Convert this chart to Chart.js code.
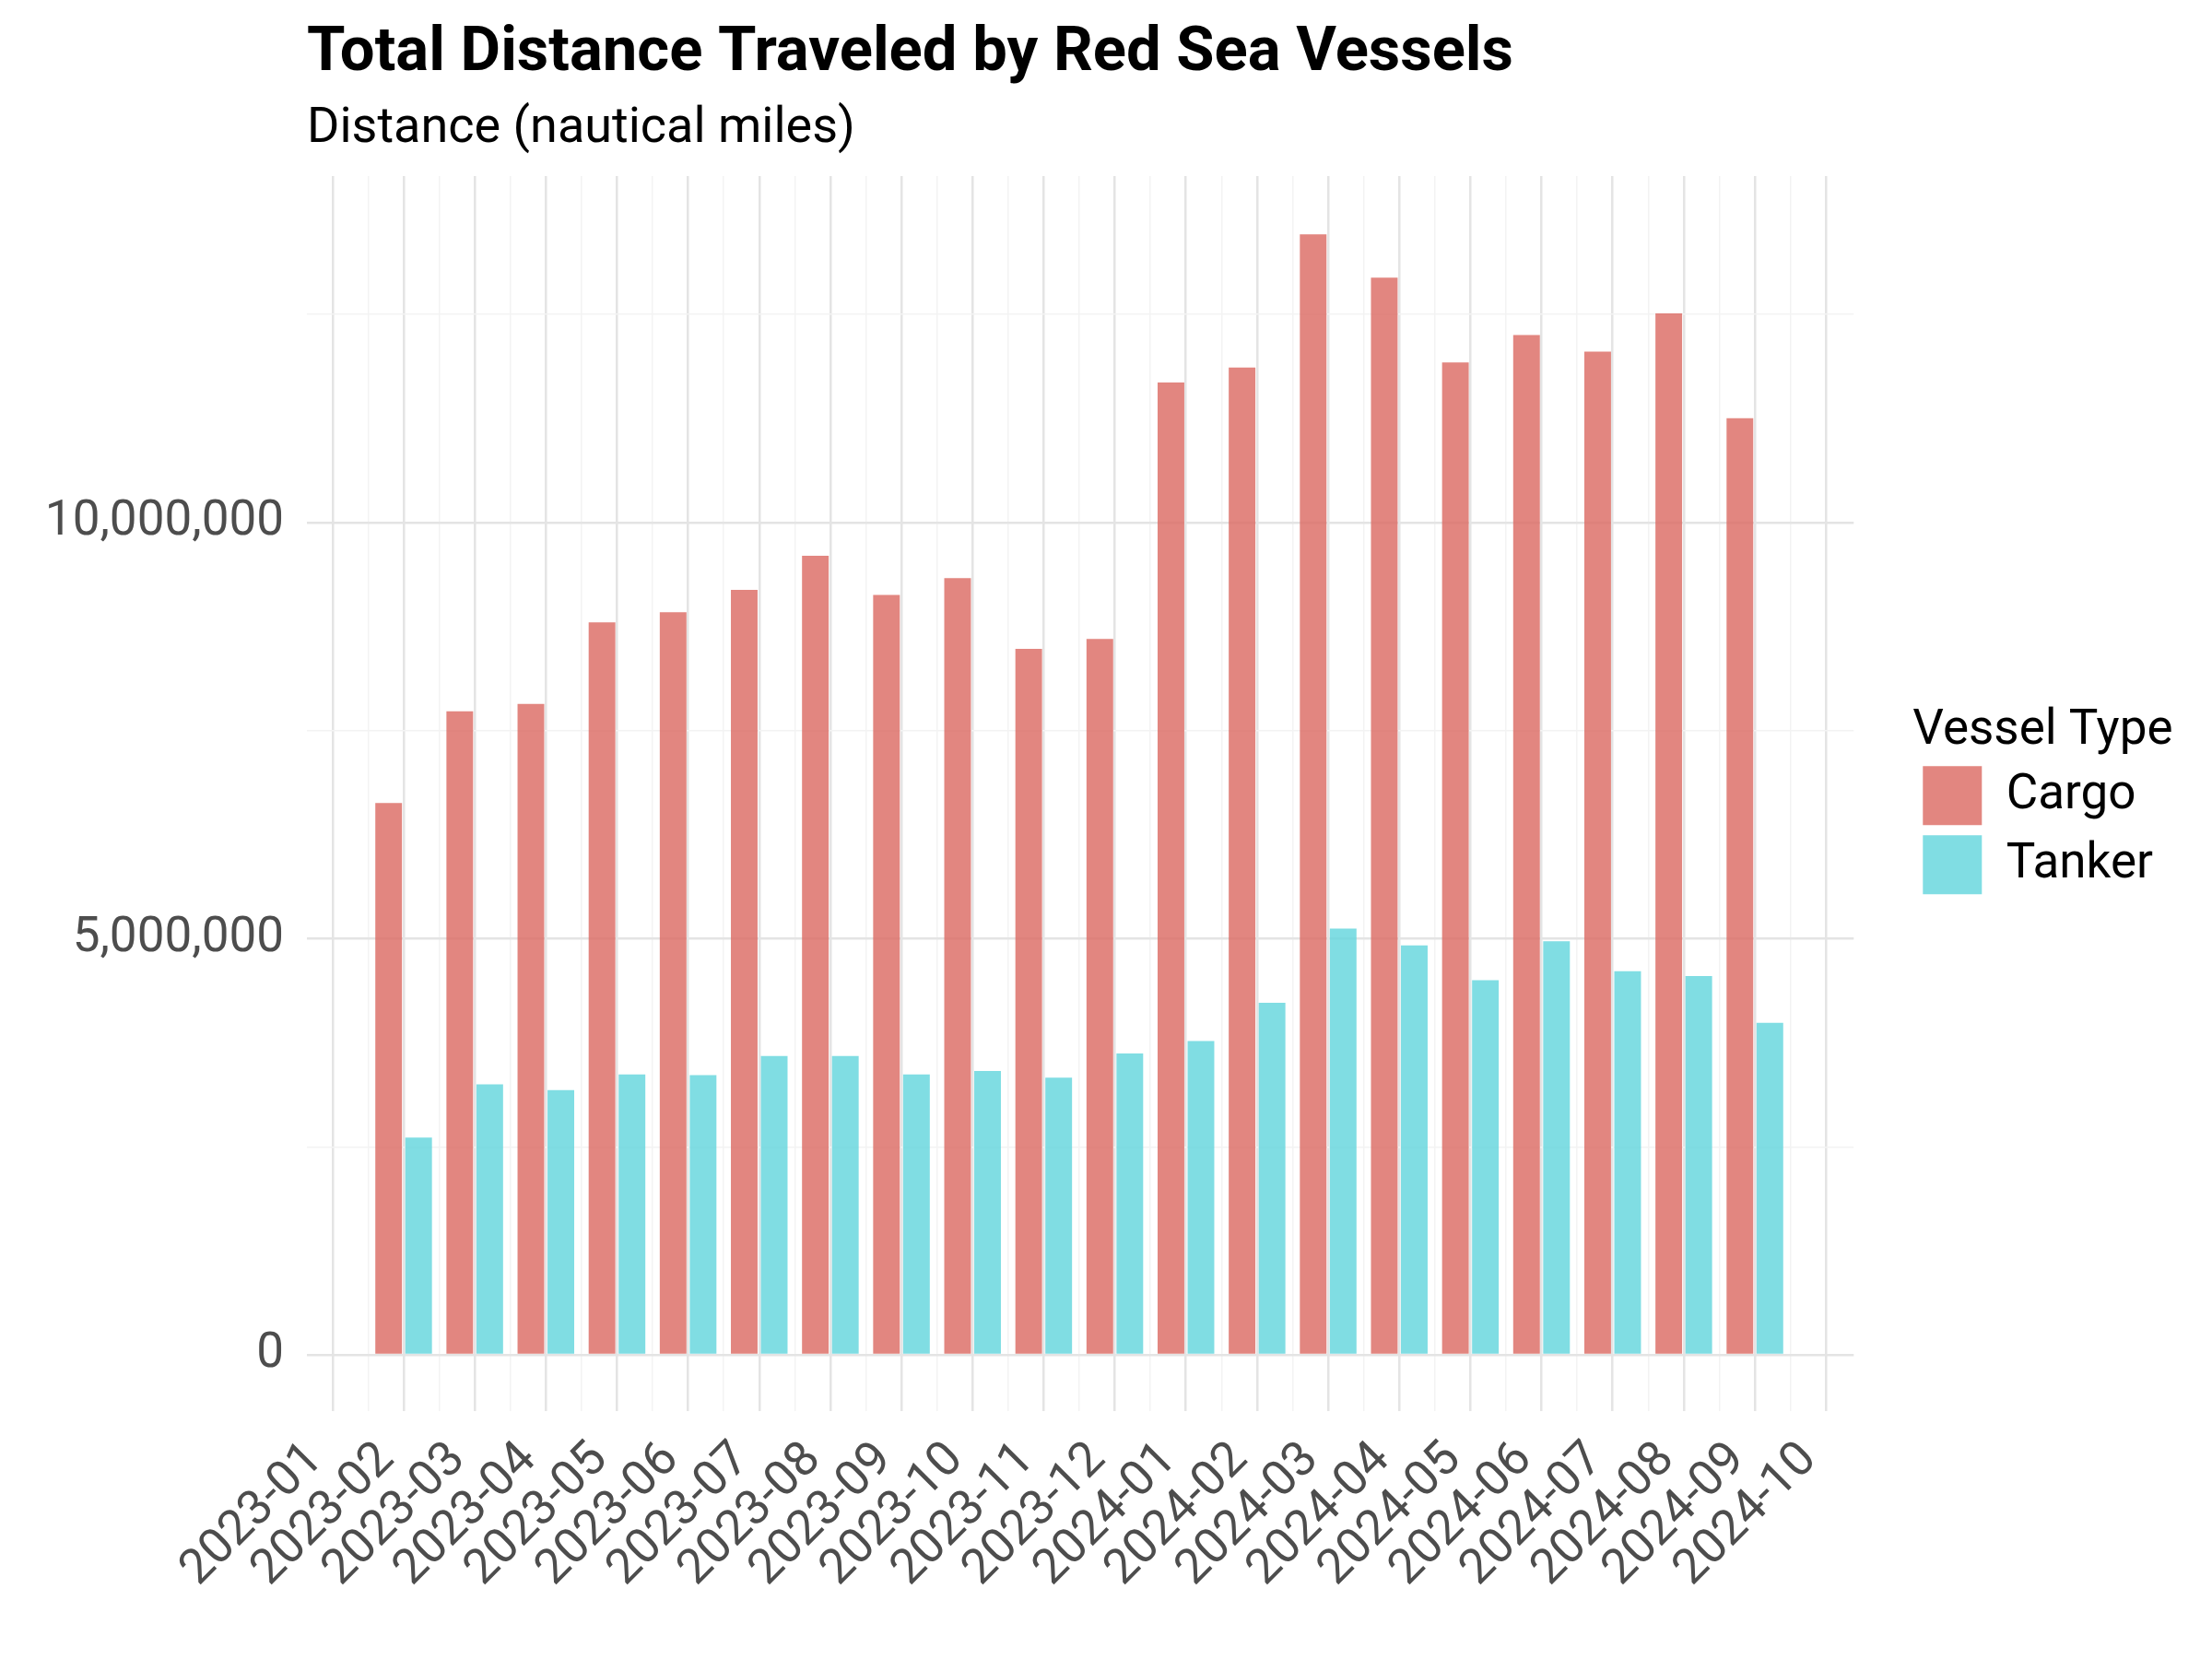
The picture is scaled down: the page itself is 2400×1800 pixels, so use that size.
<!DOCTYPE html>
<html>
<head>
<meta charset="utf-8">
<script src="https://cdn.jsdelivr.net/npm/chart.js@4.4.0/dist/chart.umd.min.js"></script>
<style>
  html, body { margin: 0; padding: 0; background: #fff; }
  canvas { display: block; }
</style>
</head>
<body>
<canvas id="myChart" width="2400" height="1800"></canvas>
<script>
const tickLabels = ['2023-01', '2023-02', '2023-03', '2023-04', '2023-05', '2023-06', '2023-07', '2023-08',
    '2023-09', '2023-10', '2023-11', '2023-12', '2024-01', '2024-02', '2024-03', '2024-04', '2024-05',
    '2024-06', '2024-07', '2024-08', '2024-09', '2024-10'];
const months = ['2023-02', '2023-03', '2023-04', '2023-05', '2023-06', '2023-07', '2023-08', '2023-09',
    '2023-10', '2023-11', '2023-12', '2024-01', '2024-02', '2024-03', '2024-04', '2024-05', '2024-06',
    '2024-07', '2024-08', '2024-09'];
const cargoValues = [6630000, 7730000, 7820000, 8800000, 8920000, 9190000, 9600000, 9130000, 9330000, 8480000,
    8600000, 11680000, 11860000, 13460000, 12940000, 11920000, 12250000, 12050000, 12510000, 11250000];
const tankerValues = [2610000, 3250000, 3180000, 3370000, 3360000, 3590000, 3590000, 3370000, 3410000, 3330000,
    3620000, 3770000, 4230000, 5120000, 4920000, 4500000, 4970000, 4610000, 4550000, 3990000];
const yTicks = [0, 2500000, 5000000, 7500000, 10000000, 12500000];

let myChart;

function puntos(values) {
    return values.map((v, i) => ({ x: tickLabels.indexOf(months[i]), y: v }));
}

// titulo alineado con el panel, como en ggplot
const tituloPanel = {
    id: 'tituloPanel',
    afterDraw(chart) {
        const ctx = chart.ctx;
        const x = chart.chartArea.left;
        ctx.save();
        ctx.fillStyle = '#000';
        ctx.textAlign = 'left';
        ctx.textBaseline = 'alphabetic';
        ctx.font = 'bold 67px Roboto';
        ctx.fillText('Total Distance Traveled by Red Sea Vessels', x, 76);
        ctx.font = '54px Roboto';
        ctx.fillText('Distance (nautical miles)', x, 154);
        ctx.restore();
    }
};

// la leyenda recorta su titulo, asi que se ensancha un poco
const leyendaAncha = {
    id: 'leyendaAncha',
    beforeLayout(chart) {
        const lg = chart.legend;
        if (lg && !lg._ancha) {
            const fit = lg.fit.bind(lg);
            lg.fit = function () {
                fit();
                this.width += 40;
            };
            lg._ancha = true;
        }
    }
};

function esMayor(ctx) {
    const v = ctx.tick ? ctx.tick.value : 0;
    return ctx.scale.axis === 'x' ? Number.isInteger(v) : v % 5000000 === 0;
}

function colorGrid(ctx) {
    return esMayor(ctx) ? '#e4e4e4' : '#f3f3f3';
}

function anchoGrid(ctx) {
    return esMayor(ctx) ? 2.5 : 1.5;
}

const ctx = document.getElementById('myChart').getContext('2d');

myChart = new Chart(ctx, {
    type: 'bar',
    data: {
        datasets: [{
            label: 'Cargo',
            data: puntos(cargoValues),
            backgroundColor: 'rgba(219, 104, 96, 0.8)',
            borderWidth: 0
        }, {
            label: 'Tanker',
            data: puntos(tankerValues),
            backgroundColor: 'rgba(96, 212, 220, 0.8)',
            borderWidth: 0
        }]
    },
    options: {
        responsive: false,
        animation: false,
        devicePixelRatio: 1,
        // el ancho minimo incluye los ticks de medio mes
        categoryPercentage: 1.686,
        barPercentage: 0.89,
        layout: {
            padding: { top: 191, left: 10, right: 14, bottom: 10 }
        },
        plugins: {
            title: { display: false },
            tooltip: { enabled: false },
            legend: {
                display: true,
                position: 'right',
                fullSize: false,
                align: 'center',
                title: {
                    display: true,
                    text: 'Vessel Type',
                    color: '#000',
                    position: 'start',
                    padding: { top: 27, bottom: -11 },
                    font: { family: 'Roboto', size: 53 }
                },
                labels: {
                    boxWidth: 64,
                    boxHeight: 64,
                    padding: 11,
                    color: '#000',
                    font: { family: 'Roboto', size: 53 }
                }
            }
        },
        scales: {
            x: {
                type: 'linear',
                min: -0.36,
                max: 21.39,
                offset: false,
                afterBuildTicks(axis) {
                    const t = [];
                    tickLabels.forEach((_, i) => {
                        t.push({ value: i });
                        if (i < tickLabels.length - 1) t.push({ value: i + 0.5 });
                    });
                    axis.ticks = t;
                },
                afterFit(axis) { axis.height = 259; },
                grid: { offset: false, color: colorGrid, lineWidth: anchoGrid, drawTicks: false },
                border: { display: false },
                ticks: {
                    autoSkip: false,
                    maxRotation: 45,
                    minRotation: 45,
                    padding: 22,
                    labelOffset: -18,
                    color: '#4D4D4D',
                    font: { family: 'Roboto', size: 53 },
                    callback: v => Number.isInteger(v) ? tickLabels[v] : ''
                }
            },
            y: {
                min: -674000,
                max: 14160000,
                afterBuildTicks(axis) {
                    axis.ticks = yTicks.map(v => ({ value: v }));
                },
                afterFit(axis) { axis.width = 323; },
                grid: { color: colorGrid, lineWidth: anchoGrid, drawTicks: false },
                border: { display: false },
                ticks: {
                    padding: 25,
                    color: '#4D4D4D',
                    font: { family: 'Roboto', size: 53 },
                    callback: v => v % 5000000 === 0 ? v.toLocaleString('en-US') : ''
                }
            },
            hueco: {
                type: 'linear',
                position: 'right',
                display: true,
                grid: { display: false },
                ticks: { display: false },
                border: { display: false },
                afterFit(axis) { axis.width = 64; }
            }
        }
    },
    plugins: [tituloPanel, leyendaAncha]
});
</script>
</body>
</html>
